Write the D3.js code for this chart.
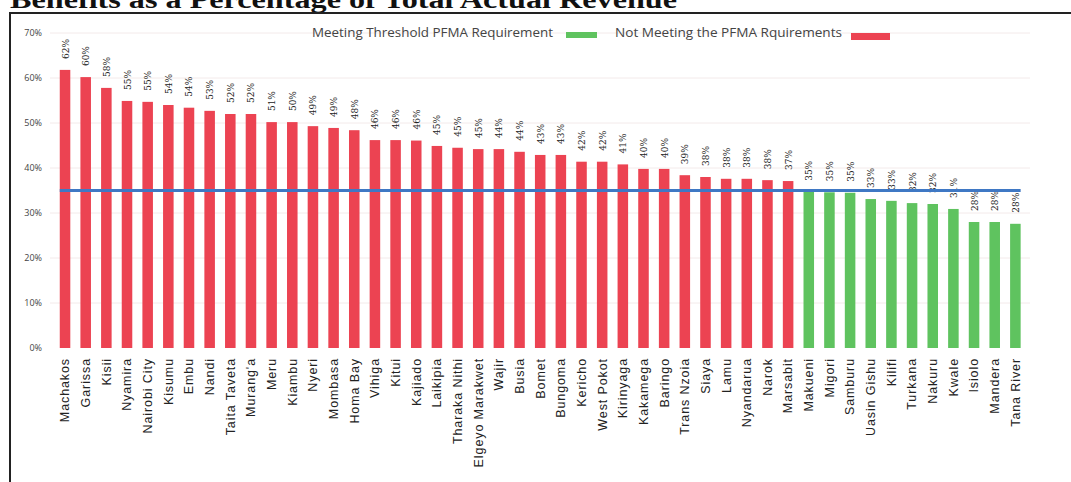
<!DOCTYPE html>
<html>
<head>
<meta charset="UTF-8" />
<title>Benefits as a Percentage of Total Actual Revenue</title>
<script src="https://d3js.org/d3.v7.min.js"></script>
<style>
body { margin: 0px; background: #fff; }
svg { display: block; }
</style>
</head>
<body>
<svg id="chart" width="1071" height="482"></svg>
<script>
// counties, sorted as in the source chart
const counties = ["Machakos", "Garissa", "Kisii", "Nyamira", "Nairobi City", "Kisumu", "Embu", "Nandi",
    "Taita Taveta", "Murang'a", "Meru", "Kiambu", "Nyeri", "Mombasa", "Homa Bay", "Vihiga", "Kitui",
    "Kajiado", "Laikipia", "Tharaka Nithi", "Elgeyo Marakwet", "Wajir", "Busia", "Bomet", "Bungoma",
    "Kericho", "West Pokot", "Kirinyaga", "Kakamega", "Baringo", "Trans Nzoia", "Siaya", "Lamu",
    "Nyandarua", "Narok", "Marsabit", "Makueni", "Migori", "Samburu", "Uasin Gishu", "Kilifi",
    "Turkana", "Nakuru", "Kwale", "Isiolo", "Mandera", "Tana River"];

// bar heights (share of revenue)
const values = [0.618, 0.602, 0.578, 0.549, 0.547, 0.54, 0.534, 0.527, 0.52, 0.52, 0.502, 0.502,
    0.493, 0.489, 0.484, 0.462, 0.462, 0.461, 0.449, 0.445, 0.442, 0.442, 0.436, 0.429, 0.429,
    0.414, 0.414, 0.408, 0.398, 0.398, 0.384, 0.38, 0.376, 0.376, 0.373, 0.371, 0.347, 0.346,
    0.345, 0.331, 0.327, 0.322, 0.32, 0.309, 0.28, 0.28, 0.276];

// printed labels above bars
const labels = ["62%", "60%", "58%", "55%", "55%", "54%", "54%", "53%", "52%", "52%", "51%", "50%",
    "49%", "49%", "48%", "46%", "46%", "46%", "45%", "45%", "45%", "44%", "44%", "43%", "43%",
    "42%", "42%", "41%", "40%", "40%", "39%", "38%", "38%", "38%", "38%", "37%", "35%", "35%",
    "35%", "33%", "33%", "32%", "32%", "31%", "28%", "28%", "28%"];

const yTicks = [0, 0.1, 0.2, 0.3, 0.4, 0.5, 0.6, 0.7];
const threshold = 0.35;
const legendNames = ["Meeting Threshold PFMA Requirement", "Not Meeting the PFMA Rquirements"];

const red = "#ec4352";
const green = "#5fc35f";
const blue = "#3f78c4";

let svg = d3.select("#chart");

let x = d3.scaleBand()
    .domain(counties)
    .range([54.7, 1025.7])
    .paddingInner(0.49)
    .paddingOuter(0.245);

let y = d3.scaleLinear()
    .domain([0, 0.7])
    .range([348, 33]);

// title, cut off by the top of the scan
svg.append("text")
    .attr("x", 10)
    .attr("y", 8)
    .attr("textLength", 667)
    .attr("lengthAdjust", "spacingAndGlyphs")
    .style("font-family", "'Liberation Serif', 'Times New Roman', serif")
    .style("font-weight", "bold")
    .style("font-size", "26px")
    .attr("fill", "#111")
    .text("Benefits as a Percentage of Total Actual Revenue");

// frame
svg.append("path")
    .attr("d", "M10,482 V13 H1071")
    .attr("fill", "none")
    .attr("stroke", "#222")
    .attr("stroke-width", 2);

// faint gridlines
svg.append("g")
    .selectAll("line")
    .data(yTicks.slice(1))
    .join("line")
    .attr("x1", 50).attr("x2", 1030)
    .attr("y1", d => y(d)).attr("y2", d => y(d))
    .attr("stroke", "#f3eaea")
    .attr("stroke-width", 1);

// y axis labels
let yAxis = d3.axisLeft(y)
    .tickValues(yTicks)
    .tickFormat(d3.format(".0%"))
    .tickSize(0)
    .tickPadding(0);

let gy = svg.append("g")
    .attr("transform", "translate(42,0)")
    .call(yAxis);
gy.select(".domain").remove();
gy.selectAll("text")
    .style("font-family", "'Open Sans', sans-serif")
    .style("font-size", "9px")
    .attr("fill", "#444");

// bars
svg.append("g")
    .selectAll("rect")
    .data(counties)
    .join("rect")
    .attr("x", d => x(d))
    .attr("width", x.bandwidth())
    .attr("y", (d, i) => y(values[i]))
    .attr("height", (d, i) => y(0) - y(values[i]))
    .attr("fill", (d, i) => values[i] >= threshold ? red : green);

// value labels, rotated
svg.append("g")
    .selectAll("text")
    .data(counties)
    .join("text")
    .attr("transform", (d, i) => `translate(${x(d) + x.bandwidth() / 2 + 3.5},${y(values[i]) - 11}) rotate(-90)`)
    .style("font-family", "'DejaVu Serif', serif")
    .style("font-size", "9px")
    .attr("fill", "#222")
    .text((d, i) => labels[i]);

// threshold line
svg.append("line")
    .attr("x1", x(counties[0]))
    .attr("x2", x(counties[counties.length - 1]) + x.bandwidth())
    .attr("y1", y(threshold))
    .attr("y2", y(threshold))
    .attr("stroke", blue)
    .attr("stroke-width", 3);

// x axis labels
let xAxis = d3.axisBottom(x).tickSize(0).tickPadding(0);
let gx = svg.append("g")
    .attr("transform", `translate(0,${y(0) + 10})`)
    .call(xAxis);
gx.select(".domain").remove();
gx.selectAll("text")
    .attr("transform", "rotate(-90)")
    .attr("x", 0)
    .attr("y", 0)
    .attr("dy", "0.35em")
    .style("text-anchor", "end")
    .style("font-family", "'Liberation Sans', Arial, sans-serif")
    .style("font-size", "12.5px")
    .style("letter-spacing", "0.9px")
    .attr("fill", "#222");

// legend
let legend = svg.append("g");
legend.append("text")
    .attr("x", 312).attr("y", 37)
    .attr("textLength", 241)
    .attr("lengthAdjust", "spacingAndGlyphs")
    .style("font-family", "'Open Sans', sans-serif")
    .style("font-size", "13px")
    .attr("fill", "#444")
    .text(legendNames[0]);
legend.append("rect")
    .attr("x", 566).attr("y", 32).attr("width", 31).attr("height", 6)
    .attr("fill", green);
legend.append("text")
    .attr("x", 615).attr("y", 37)
    .attr("textLength", 227)
    .attr("lengthAdjust", "spacingAndGlyphs")
    .style("font-family", "'Open Sans', sans-serif")
    .style("font-size", "13px")
    .attr("fill", "#444")
    .text(legendNames[1]);
legend.append("rect")
    .attr("x", 851).attr("y", 33).attr("width", 39).attr("height", 7)
    .attr("fill", red);
</script>
</body>
</html>
